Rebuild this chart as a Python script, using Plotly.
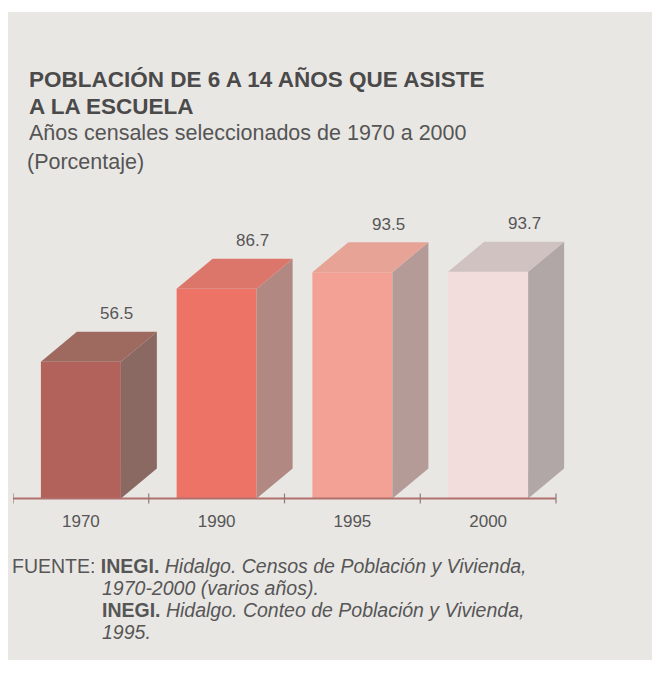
import plotly.graph_objects as go

# ---------------- data ----------------
years = ["1970", "1990", "1995", "2000"]
values = [56.5, 86.7, 93.5, 93.7]

title_lines = ["POBLACIÓN DE 6 A 14 AÑOS QUE ASISTE", "A LA ESCUELA"]
subtitle_lines = ["Años censales seleccionados de 1970 a 2000", "(Porcentaje)"]
source_lines = [
    "FUENTE: <b>INEGI.</b> <i>Hidalgo. Censos de Población y Vivienda,</i>",
    "<i>1970-2000 (varios años).</i>",
    "<b>INEGI.</b> <i>Hidalgo. Conteo de Población y Vivienda,</i>",
    "<i>1995.</i>",
]

# ---------------- style ----------------
front_colors = ["#b3615b", "#ee7367", "#f3a194", "#f2dddc"]
side_colors = ["#8b6963", "#b28883", "#b59b97", "#b0a7a6"]
top_colors = ["#9e695f", "#dc766b", "#e6a396", "#cfc2c1"]
FONT = "Arial, Liberation Sans, sans-serif"
TEXT = "#565656"

OFF = 8                   # page body margin
W, H = 660 - OFF, 677 - OFF
# plot area in page pixels
P_LEFT, P_RIGHT, P_TOP, P_BOTTOM = 13, 583, 200, 504
ML, MR, MT, MB = P_LEFT - OFF, W - (P_RIGHT - OFF), P_TOP - OFF, H - (P_BOTTOM - OFF)
BASE_PIX = 498.5          # page pixel row of value 0
PPU = 2.42                # pixels per percentage unit
CAT_PX = 135.75           # pixels per category slot

plot_w = P_RIGHT - P_LEFT
plot_h = P_BOTTOM - P_TOP
ymax = (BASE_PIX - P_TOP) / PPU
ymin = -(P_BOTTOM - BASE_PIX) / PPU
xmin = -0.5
xmax = xmin + plot_w / CAT_PX
BAR_W = 80 / CAT_PX
DX = 36 / CAT_PX
DY = 30 / PPU


def pxx(p):
    return (p - P_LEFT) / plot_w


def pxy(p):
    return (P_BOTTOM - p) / plot_h


xs = list(range(len(years)))
fig = go.Figure()

# front faces
fig.add_trace(go.Bar(x=xs, y=values, width=BAR_W, marker=dict(color=front_colors, line=dict(width=0)),
                     hoverinfo="skip", showlegend=False))

# side and top faces, derived from the values
for i, v in enumerate(values):
    xl = i - BAR_W / 2
    xr = i + BAR_W / 2
    fig.add_trace(go.Scatter(
        x=[xr, xr, xr + DX, xr + DX, xr], y=[0, v, v + DY, DY, 0],
        fill="toself", fillcolor=side_colors[i], mode="lines", line=dict(width=0),
        hoverinfo="skip", showlegend=False))
    fig.add_trace(go.Scatter(
        x=[xl, xl + DX, xr + DX, xr, xl], y=[v, v + DY, v + DY, v, v],
        fill="toself", fillcolor=top_colors[i], mode="lines", line=dict(width=0),
        hoverinfo="skip", showlegend=False))

# baseline axis line and slot ticks
bounds = [k - 0.5 for k in range(len(years) + 1)]
fig.add_trace(go.Scatter(x=[bounds[0], bounds[-1]], y=[0, 0], mode="lines",
                         line=dict(color="#b0706c", width=2), hoverinfo="skip", showlegend=False))
fig.add_trace(go.Scatter(x=bounds, y=[0] * len(bounds), mode="markers",
                         marker=dict(symbol="line-ns", size=7, line=dict(color="#8f7a78", width=1.2)),
                         hoverinfo="skip", showlegend=False))

annotations = []
# value labels above back face
for i, v in enumerate(values):
    annotations.append(dict(x=i + DX, y=v + DY, xref="x", yref="y", text=f"{v:.1f}",
                            showarrow=False, yanchor="middle", yshift=18,
                            font=dict(family=FONT, size=17, color=TEXT)))

# titles
TX = 27
annotations.append(dict(x=pxx(TX), y=pxy(79), xref="paper", yref="paper", text=f"<b>{title_lines[0]}</b>",
                        showarrow=False, xanchor="left", yanchor="middle",
                        font=dict(family=FONT, size=22.5, color="#4a4a4a")))
annotations.append(dict(x=pxx(TX), y=pxy(106), xref="paper", yref="paper", text=f"<b>{title_lines[1]}</b>",
                        showarrow=False, xanchor="left", yanchor="middle",
                        font=dict(family=FONT, size=22.5, color="#4a4a4a")))
annotations.append(dict(x=pxx(TX), y=pxy(133), xref="paper", yref="paper", text=subtitle_lines[0],
                        showarrow=False, xanchor="left", yanchor="middle",
                        font=dict(family=FONT, size=21.5, color="#555555")))
annotations.append(dict(x=pxx(TX - 2), y=pxy(162), xref="paper", yref="paper", text=subtitle_lines[1],
                        showarrow=False, xanchor="left", yanchor="middle",
                        font=dict(family=FONT, size=21.5, color="#555555")))

# source notes
src_pos = [(10, 566), (100, 588), (100, 610), (100, 632)]
for (sx, sy), line in zip(src_pos, source_lines):
    annotations.append(dict(x=pxx(sx), y=pxy(sy), xref="paper", yref="paper", text=line,
                            showarrow=False, xanchor="left", yanchor="middle",
                            font=dict(family=FONT, size=19.5, color=TEXT)))

fig.update_layout(
    width=W, height=H,
    margin=dict(l=ML, r=MR, t=MT, b=MB, pad=0),
    paper_bgcolor="#ffffff",
    plot_bgcolor="rgba(0,0,0,0)",
    barmode="overlay",
    showlegend=False,
    annotations=annotations,
    shapes=[dict(type="rect", xref="paper", yref="paper", layer="below",
                 x0=pxx(8), x1=pxx(656), y0=pxy(12), y1=pxy(660),
                 fillcolor="#e9e7e4", line=dict(width=0))],
    xaxis=dict(range=[xmin, xmax], tickmode="array", tickvals=xs, ticktext=years,
               ticks="", showline=False, showgrid=False, zeroline=False,
               ticklabelstandoff=5,
               tickfont=dict(family=FONT, size=17, color=TEXT), fixedrange=True),
    yaxis=dict(range=[ymin, ymax], visible=False, showgrid=False, zeroline=False, fixedrange=True),
)

fig.write_html("out.html")
